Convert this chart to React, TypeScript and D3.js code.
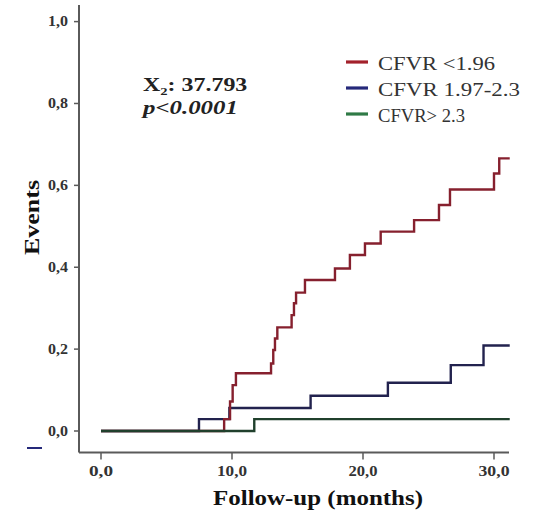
import React from "react";
import * as d3 from "d3";

// Cumulative event curves: step times (months) and cumulative event fraction after each step
const redTimes = [0, 9.4, 9.85, 10.05, 10.3, 12.98, 13.15, 13.28, 13.46, 14.55, 14.73, 14.89, 15.57, 17.86, 19.0, 20.15, 21.35, 23.9, 25.8, 26.64, 30.0, 30.4, 31.2];
const redValues = [0, 0.029, 0.072, 0.112, 0.141, 0.165, 0.198, 0.226, 0.253, 0.283, 0.312, 0.338, 0.369, 0.397, 0.43, 0.458, 0.487, 0.515, 0.552, 0.59, 0.629, 0.666, 0.666];

const blueTimes = [0, 7.48, 9.8, 16.0, 21.9, 26.7, 29.2, 31.2];
const blueValues = [0, 0.029, 0.056, 0.086, 0.118, 0.161, 0.209, 0.209];

const greenTimes = [0, 11.7, 31.2];
const greenValues = [0, 0.029, 0.029];

const legendLabels = ["CFVR <1.96", "CFVR 1.97-2.3", "CFVR> 2.3"];
const xTickValues = [0, 10, 20, 30];
const xTickLabels = ["0,0", "10,0", "20,0", "30,0"];
const yTickValues = [0, 0.2, 0.4, 0.6, 0.8, 1.0];
const yTickLabels = ["0,0", "0,2", "0,4", "0,6", "0,8", "1,0"];

const statChi = "37.793";
const statP = "p<0.0001";

const W = 534;
const H = 515;
const SERIF = "'Liberation Serif', 'Times New Roman', serif";
const AXIS = "#5a5a5a";

export default function App() {
  const x = d3.scaleLinear().domain([0, 30]).range([101, 494]);
  const y = d3.scaleLinear().domain([0, 1]).range([431, 21.6]);

  const axisLeft = 79;
  const axisBottom = 452.5;
  const axisRight = 509;
  const axisTop = 5;

  const line = d3
    .line<[number, number]>()
    .x((d) => x(d[0]))
    .y((d) => y(d[1]))
    .curve(d3.curveStepAfter);

  const series = [
    { times: blueTimes, values: blueValues, stroke: "#22224e", swatch: "#25297a" },
    { times: redTimes, values: redValues, stroke: "#86202e", swatch: "#a3212b" },
    { times: greenTimes, values: greenValues, stroke: "#20402c", swatch: "#2f7a46" },
  ];
  const legendOrder = [1, 0, 2];
  const legendY = [62, 88, 114];
  const legendWidths = [117, 142, 87];
  const xLabelWidths = [24, 30, 29, 31];

  return (
    <svg width={W} height={H} style={{ display: "block", position: "absolute", left: 0, top: 0, background: "#fff" }}>
      <rect width={W} height={H} fill="#fff" />

      {/* axes */}
      <line x1={axisLeft} x2={axisLeft} y1={axisTop} y2={axisBottom} stroke={AXIS} strokeWidth={2} />
      <line x1={axisLeft} x2={axisRight} y1={axisBottom} y2={axisBottom} stroke={AXIS} strokeWidth={2} />

      {yTickValues.map((v, i) => (
        <g key={"yt" + i}>
          <line x1={axisLeft - 5} x2={axisLeft} y1={y(v)} y2={y(v)} stroke={AXIS} strokeWidth={1.5} />
          <text
            x={68}
            y={y(v) + 4.5}
            textAnchor="end"
            fontFamily={SERIF}
            fontWeight="bold"
            fontSize={14}
            fill="#333"
            textLength={20}
            lengthAdjust="spacingAndGlyphs"
          >
            {yTickLabels[i]}
          </text>
        </g>
      ))}

      {xTickValues.map((v, i) => (
        <g key={"xt" + i}>
          <line x1={x(v)} x2={x(v)} y1={axisBottom} y2={axisBottom + 7} stroke={AXIS} strokeWidth={1.5} />
          <text
            x={x(v)}
            y={476}
            textAnchor="middle"
            fontFamily={SERIF}
            fontWeight="bold"
            fontSize={14}
            fill="#333"
            textLength={xLabelWidths[i]}
            lengthAdjust="spacingAndGlyphs"
          >
            {xTickLabels[i]}
          </text>
        </g>
      ))}

      {/* axis titles */}
      <text
        x={318}
        y={505}
        textAnchor="middle"
        fontFamily={SERIF}
        fontWeight="bold"
        fontSize={20}
        fill="#111"
        textLength={210}
        lengthAdjust="spacingAndGlyphs"
      >
        Follow-up (months)
      </text>
      <text
        transform="translate(38.5,217.5) rotate(-90)"
        textAnchor="middle"
        fontFamily={SERIF}
        fontWeight="bold"
        fontSize={20}
        fill="#111"
        textLength={75}
        lengthAdjust="spacingAndGlyphs"
      >
        Events
      </text>

      {/* short navy rule at the lower left */}
      <line x1={27} x2={42} y1={448} y2={448} stroke="#25297a" strokeWidth={2} />

      {/* step curves */}
      {series.map((s, i) => (
        <path
          key={"s" + i}
          d={line(s.times.map((t, j) => [t, s.values[j]] as [number, number])) || ""}
          fill="none"
          stroke={s.stroke}
          strokeWidth={2.4}
        />
      ))}

      {/* test statistic */}
      <g transform="translate(143,91) scale(1.33,1)">
        <text fontFamily={SERIF} fontWeight="bold" fontSize={18} fill="#222">
          X<tspan fontSize={11} dy={4}>2</tspan>
          <tspan dy={-4}>{": " + statChi}</tspan>
        </text>
      </g>
      <g transform="translate(143,114) scale(1.38,1)">
        <text fontFamily={SERIF} fontWeight="bold" fontStyle="italic" fontSize={18} fill="#222">
          {statP}
        </text>
      </g>

      {/* legend */}
      {legendOrder.map((si, i) => (
        <g key={"lg" + i}>
          <line x1={346} x2={368} y1={legendY[i]} y2={legendY[i]} stroke={series[si].swatch} strokeWidth={3.2} />
          <text
            x={378}
            y={legendY[i] + 8}
            fontFamily={SERIF}
            fontSize={19}
            fill="#333"
            textLength={legendWidths[i]}
            lengthAdjust="spacingAndGlyphs"
          >
            {legendLabels[i]}
          </text>
        </g>
      ))}
    </svg>
  );
}
